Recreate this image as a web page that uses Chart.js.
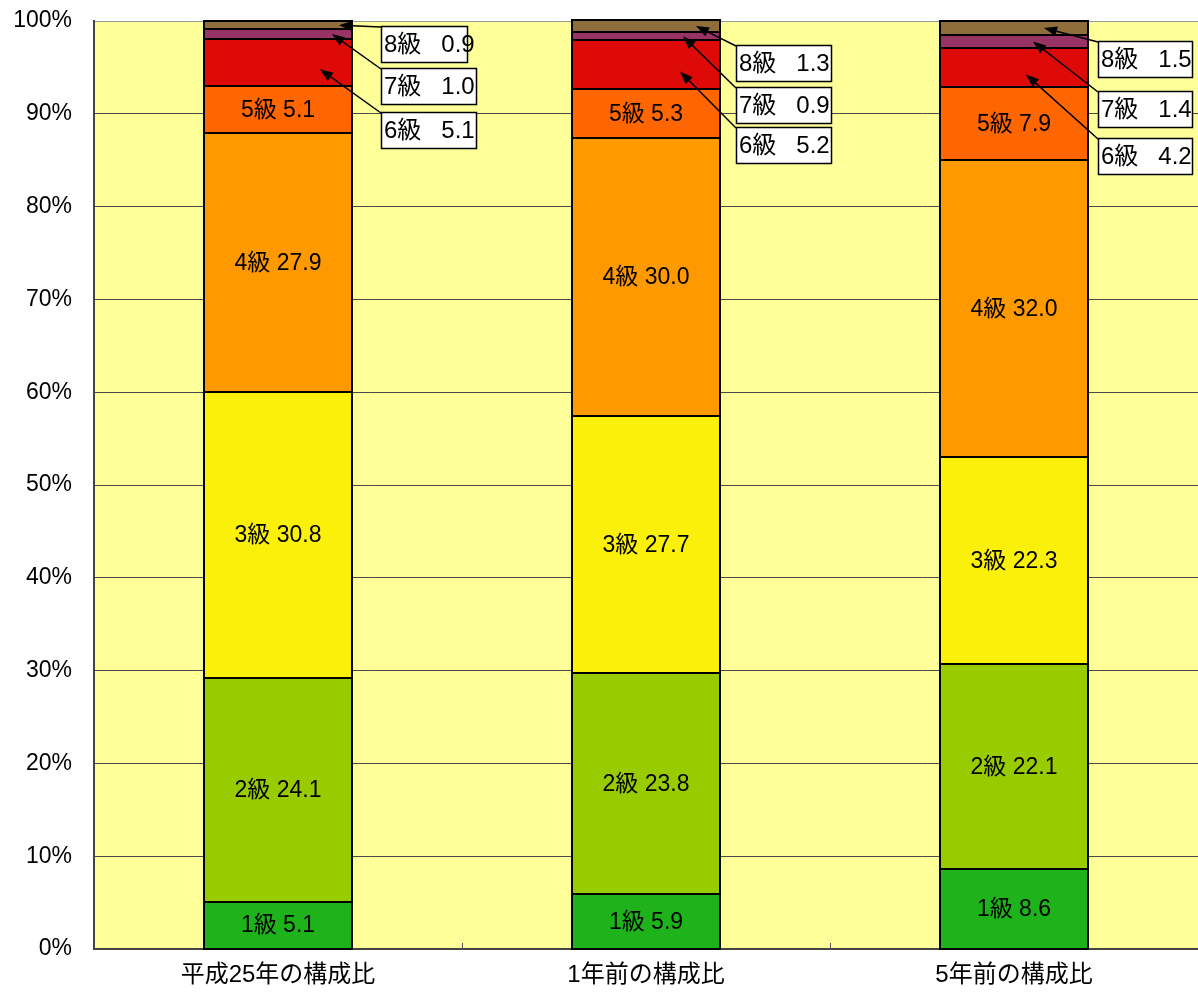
<!DOCTYPE html>
<html lang="ja">
<head>
<meta charset="utf-8">
<title>級別構成比</title>
<script src="https://cdn.jsdelivr.net/npm/chart.js@4/dist/chart.umd.min.js"></script>
<style>
  html, body { margin: 0; padding: 0; background: #ffffff; }
  #wrap { width: 1198px; height: 995px; position: relative; }
</style>
</head>
<body>
<div id="wrap"><canvas id="chart" width="1198" height="995"></canvas></div>
<script>
// 区分（横軸）
const categories = ['平成25年の構成比', '1年前の構成比', '5年前の構成比'];
// 級の名称
const grades = ['1級', '2級', '3級', '4級', '5級', '6級', '7級', '8級'];
// 級別の構成比（%）
const grade1 = [5.1, 5.9, 8.6];
const grade2 = [24.1, 23.8, 22.1];
const grade3 = [30.8, 27.7, 22.3];
const grade4 = [27.9, 30.0, 32.0];
const grade5 = [5.1, 5.3, 7.9];
const grade6 = [5.1, 5.2, 4.2];
const grade7 = [1.0, 0.9, 1.4];
const grade8 = [0.9, 1.3, 1.5];
// 縦軸目盛（%）
const yTicks = [0, 10, 20, 30, 40, 50, 60, 70, 80, 90, 100];

const gradeValues = [grade1, grade2, grade3, grade4, grade5, grade6, grade7, grade8];
const gradeColors = ['#1fb31b', '#99cc00', '#faf00a', '#ff9900', '#ff6600', '#dd0a08', '#993366', '#8f6e3c'];

const FONT = "'Liberation Sans', 'Noto Sans CJK JP', sans-serif";

// 6〜8級は吹き出しで表示（位置はピクセル指定）
const callout = {
  boxLeft: [29, 16, 10],            // 棒の右端からの距離
  boxTop: [                         // プロット上端からの距離 [6級, 7級, 8級]
    [91, 47, 5],
    [106, 66, 24],
    [117, 70, 20]
  ],
  boxWidth: [
    [95, 95, 86],
    [95, 95, 95],
    [94, 94, 94]
  ],
  tipDx: [                          // 矢印先端の棒中心からのずれ
    [42, 54, 61],
    [34, 37, 50],
    [12, 19, 30]
  ],
  tipDy: [7, 0, 0],
  boxHeight: 36
};

const datasets = grades.map((g, i) => ({
  label: g,
  data: gradeValues[i],
  backgroundColor: gradeColors[i],
  borderWidth: 0,
  categoryPercentage: 1.0,
  barPercentage: 0.4
}));

const plotBackground = {
  id: 'plotBackground',
  beforeDraw(chart) {
    const { ctx, chartArea: a } = chart;
    ctx.save();
    ctx.fillStyle = '#ffff99';
    ctx.fillRect(a.left, a.top, a.right - a.left, a.bottom - a.top);
    ctx.restore();
  }
};

function drawArrow(ctx, x1, y1, x2, y2) {
  const ang = Math.atan2(y2 - y1, x2 - x1);
  const len = 13, half = 5;
  const bx = x2 - len * Math.cos(ang), by = y2 - len * Math.sin(ang);
  ctx.beginPath();
  ctx.moveTo(x1, y1);
  ctx.lineTo(bx, by);
  ctx.stroke();
  ctx.beginPath();
  ctx.moveTo(x2, y2);
  ctx.lineTo(bx + half * Math.sin(ang), by - half * Math.cos(ang));
  ctx.lineTo(bx - half * Math.sin(ang), by + half * Math.cos(ang));
  ctx.closePath();
  ctx.fill();
}

const barLabels = {
  id: 'barLabels',
  afterDatasetsDraw(chart) {
    const { ctx, chartArea: a } = chart;
    ctx.save();
    // 各区画の黒枠
    ctx.strokeStyle = '#000';
    ctx.lineWidth = 2;
    chart.data.datasets.forEach((ds, i) => {
      chart.getDatasetMeta(i).data.forEach(el => {
        const l = Math.round(el.x - el.width / 2);
        const r = Math.round(el.x + el.width / 2);
        const t = Math.round(Math.min(el.y, el.base));
        const b = Math.round(Math.max(el.y, el.base));
        ctx.strokeRect(l, t, r - l, b - t);
      });
    });

    // 横軸の区切り目盛（内向き）
    const xs = chart.scales.x;
    ctx.strokeStyle = '#555';
    ctx.lineWidth = 1;
    for (let k = 1; k < categories.length; k++) {
      const mx = Math.round((xs.getPixelForValue(k - 1) + xs.getPixelForValue(k)) / 2) + 0.5;
      ctx.beginPath();
      ctx.moveTo(mx, a.bottom);
      ctx.lineTo(mx, a.bottom - 6);
      ctx.stroke();
    }

    ctx.fillStyle = '#000';
    ctx.textAlign = 'center';
    ctx.textBaseline = 'middle';
    ctx.font = '23px ' + FONT;
    // 1〜5級：棒の中に表示
    for (let i = 0; i < 5; i++) {
      chart.getDatasetMeta(i).data.forEach((el, j) => {
        const v = gradeValues[i][j];
        ctx.fillText(grades[i] + ' ' + v.toFixed(1), el.x, (el.y + el.base) / 2 + 1);
      });
    }
    // 6〜8級：吹き出し
    ctx.lineWidth = 1.5;
    ctx.strokeStyle = '#000';
    ctx.font = '24px ' + FONT;
    for (let i = 5; i < 8; i++) {
      const k = i - 5;
      chart.getDatasetMeta(i).data.forEach((el, j) => {
        const v = gradeValues[i][j];
        const left = Math.round(el.x + el.width / 2 + callout.boxLeft[j]);
        const top = Math.round(a.top + callout.boxTop[j][k]);
        const w = callout.boxWidth[j][k];
        const h = callout.boxHeight;
        const tipX = el.x + callout.tipDx[j][k];
        const tipY = (el.y + el.base) / 2 + callout.tipDy[k];
        ctx.fillStyle = '#000';
        drawArrow(ctx, left, top + 1, tipX, tipY);
        ctx.fillStyle = '#fff';
        ctx.fillRect(left, top, w, h);
        ctx.strokeRect(left + 0.5, top + 0.5, w, h);
        ctx.fillStyle = '#000';
        ctx.textAlign = 'left';
        ctx.fillText(grades[i] + '   ' + v.toFixed(1), left + 3, top + h / 2 + 1);
      });
    }
    ctx.restore();
  }
};

new Chart(document.getElementById('chart'), {
  type: 'bar',
  data: { labels: categories, datasets },
  options: {
    responsive: false,
    animation: false,
    layout: { padding: { top: 21, right: 0, left: 0, bottom: 0 } },
    plugins: {
      legend: { display: false },
      tooltip: { enabled: false }
    },
    scales: {
      x: {
        stacked: true,
        offset: true,
        grid: { display: false, drawTicks: false },
        border: { display: true, color: '#444', width: 2 },
        ticks: { color: '#000', font: { size: 24, family: FONT }, padding: 12 },
        afterFit(scale) { scale.height = 46; }
      },
      y: {
        stacked: true,
        min: 0,
        max: 100,
        afterBuildTicks(scale) { scale.ticks = yTicks.map(v => ({ value: v })); },
        grid: {
          drawTicks: false,
          color: ctx => (ctx.tick && ctx.tick.value === 100 ? '#9a9a9a' : '#4a4a4a'),
          lineWidth: 1
        },
        border: { display: true, color: '#444', width: 2 },
        ticks: {
          color: '#000',
          padding: 22,
          font: { size: 23, family: FONT },
          callback: v => v + '%'
        },
        afterFit(scale) {
          scale.width = 94;
          scale.paddingTop = 0;
          scale.paddingBottom = 0;
        }
      }
    }
  },
  plugins: [plotBackground, barLabels]
});
</script>
</body>
</html>
